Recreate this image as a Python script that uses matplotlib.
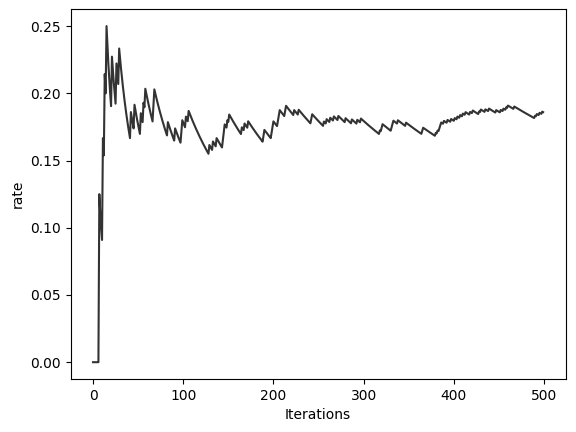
import numpy as np
import matplotlib
matplotlib.use("Agg")
import matplotlib.pyplot as plt

hit_iters = [7, 11, 13, 15, 21, 26, 29, 42, 46, 53, 56, 58, 67, 68, 83, 91,
             98, 99, 103, 106, 129, 133, 137, 144, 145, 146, 149, 151, 165,
             168, 172, 189, 190, 198, 199, 200, 205, 206, 207, 213, 214, 223,
             228, 242, 243, 256, 259, 263, 267, 272, 280, 287, 293, 297, 318,
             320, 321, 331, 332, 333, 338, 347, 365, 366, 380, 382, 384, 385,
             386, 389, 393, 397, 401, 404, 407, 410, 413, 418, 421, 428, 430,
             435, 439, 447, 452, 455, 458, 460, 467, 490, 492, 495, 498]
n_iters = 500

iterations = np.arange(n_iters)
hits = np.zeros(n_iters)
hits[hit_iters] = 1
# running success rate after each iteration
rate = np.cumsum(hits) / (iterations + 1)

fig = plt.figure(figsize=(5.76, 4.32), dpi=100)
plt.subplots_adjust(left=0.1224, right=0.982, bottom=0.1227, top=0.9785)
plt.plot(iterations, rate, color='k', alpha=0.8)
plt.xlabel('Iterations')
plt.ylabel('rate')

plt.savefig('out.png')
